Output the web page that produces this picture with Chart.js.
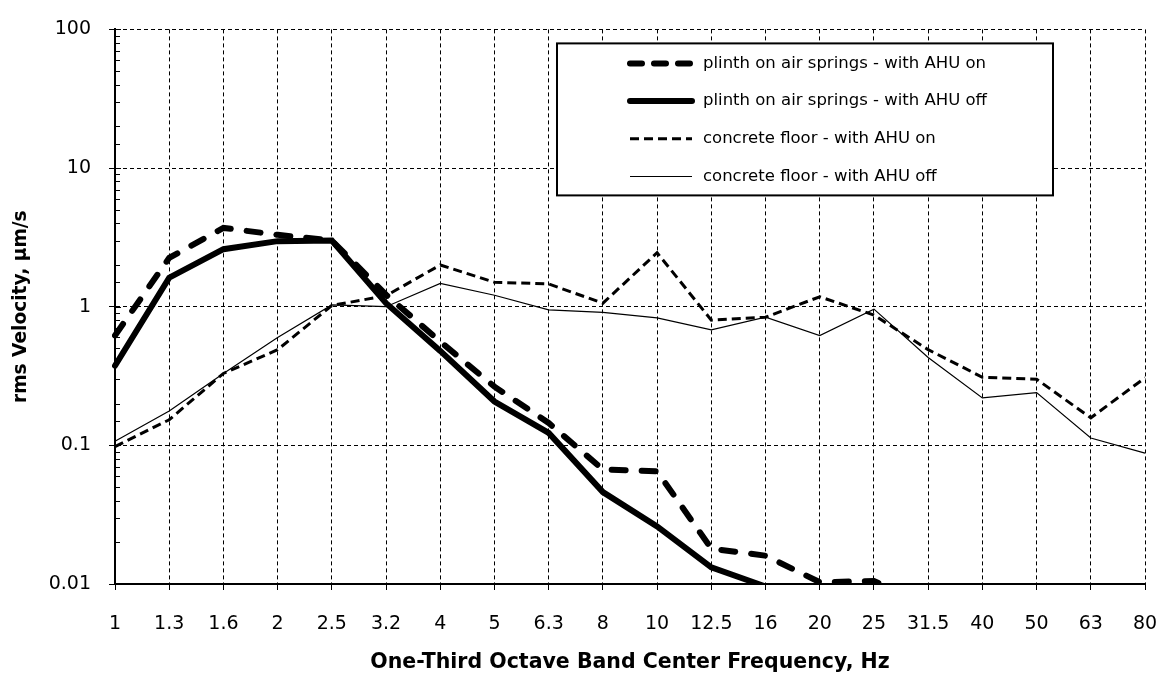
<!DOCTYPE html>
<html>
<head>
  <meta charset="UTF-8">
  <title>rms Velocity - One-Third Octave Bands</title>
  <script src="https://cdn.jsdelivr.net/npm/chart.js"></script>
  <style>
    html, body {
      margin: 0;
      padding: 0;
      background: #fff;
    }
    #wrap {
      width: 1169px;
      height: 675px;
    }
  </style>
</head>
<body>
  <div id="wrap"><canvas id="velChart"></canvas></div>

  <script>
    const freqs = ['1', '1.3', '1.6', '2', '2.5', '3.2', '4', '5', '6.3', '8', '10',
                   '12.5', '16', '20', '25', '31.5', '40', '50', '63', '80'];

    const plinthOn = [0.62, 2.25, 3.7, 3.3, 3.0, 1.22, 0.56, 0.265, 0.145, 0.067, 0.065,
                      0.018, 0.016, 0.0103, 0.0105, 0.007, null, null, null, null];
    const plinthOff = [0.375, 1.62, 2.6, 2.97, 3.0, 1.06, 0.48, 0.207, 0.123, 0.046, 0.026,
                       0.0132, 0.0096, 0.007, null, null, null, null, null, null];
    const concreteOn = [0.098, 0.153, 0.33, 0.49, 1.02, 1.2, 2.0, 1.5, 1.46, 1.06, 2.45,
                        0.80, 0.84, 1.18, 0.87, 0.49, 0.31, 0.30, 0.158, 0.307];
    const concreteOff = [0.107, 0.177, 0.33, 0.60, 1.03, 1.0, 1.47, 1.21, 0.95, 0.91, 0.83,
                         0.68, 0.84, 0.62, 0.96, 0.43, 0.22, 0.24, 0.113, 0.088];

    const yMin = 0.01, yMax = 100;
    const FONT = "'DejaVu Sans', sans-serif";

    function isDecade(v) {
      const l = Math.log10(v);
      return Math.abs(l - Math.round(l)) < 1e-9;
    }

    // legend box drawn inside the plot, over the grid
    const legendBox = {
      id: 'legendBox',
      afterDatasetsDraw(chart) {
        const { ctx, chartArea } = chart;
        const x0 = chartArea.left + 442, y0 = chartArea.top + 14, w = 496, h = 152;
        ctx.save();
        ctx.fillStyle = '#fff';
        ctx.fillRect(x0, y0, w, h);
        ctx.strokeStyle = '#000';
        ctx.lineWidth = 2;
        ctx.strokeRect(x0, y0, w, h);
        ctx.font = '16.5px ' + FONT;
        ctx.textBaseline = 'middle';
        chart.data.datasets.forEach((ds, i) => {
          const y = y0 + 20 + i * 37.7;
          ctx.beginPath();
          ctx.setLineDash(ds.legendDash || ds.borderDash || []);
          ctx.lineWidth = ds.borderWidth;
          ctx.lineCap = ds.borderCapStyle || 'butt';
          ctx.strokeStyle = ds.borderColor;
          ctx.moveTo(x0 + 73, y);
          ctx.lineTo(x0 + 135, y);
          ctx.stroke();
          ctx.setLineDash([]);
          ctx.fillStyle = '#000';
          ctx.fillText(ds.label, x0 + 146, y);
        });
        ctx.restore();
      }
    };

    // small minor ticks on the inside of the y axis
    const minorTicks = {
      id: 'minorTicks',
      afterDraw(chart) {
        const { ctx } = chart;
        const ys = chart.scales.y;
        ctx.save();
        ctx.strokeStyle = '#000';
        ctx.lineWidth = 1;
        ys.ticks.forEach(t => {
          const py = Math.round(ys.getPixelForValue(t.value)) + 0.5;
          const len = isDecade(t.value) ? 6 : 5;
          ctx.beginPath();
          ctx.moveTo(ys.right, py);
          ctx.lineTo(ys.right + len, py);
          ctx.stroke();
        });
        ctx.restore();
      }
    };

    const ctx = document.getElementById('velChart').getContext('2d');
    const velChart = new Chart(ctx, {
      type: 'line',
      data: {
        labels: freqs,
        datasets: [
          {
            label: 'plinth on air springs - with AHU on',
            data: plinthOn,
            borderColor: '#000',
            borderWidth: 6,
            borderDash: [14, 16],
            legendDash: [12, 12],
            borderCapStyle: 'round',
            pointRadius: 0,
            tension: 0
          },
          {
            label: 'plinth on air springs - with AHU off',
            data: plinthOff,
            borderColor: '#000',
            borderWidth: 6,
            borderCapStyle: 'round',
            pointRadius: 0,
            tension: 0
          },
          {
            label: 'concrete floor - with AHU on',
            data: concreteOn,
            borderColor: '#000',
            borderWidth: 3,
            borderDash: [9, 5],
            pointRadius: 0,
            tension: 0
          },
          {
            label: 'concrete floor - with AHU off',
            data: concreteOff,
            borderColor: '#000',
            borderWidth: 1.2,
            pointRadius: 0,
            tension: 0
          }
        ]
      },
      options: {
        animation: false,
        responsive: true,
        maintainAspectRatio: false,
        layout: { padding: { top: 19, right: 24, left: 0, bottom: 0 } },
        plugins: {
          legend: { display: false },
          tooltip: { enabled: false }
        },
        scales: {
          x: {
            type: 'category',
            offset: false,
            afterFit(scale) {
              scale.height = 91;
              scale.paddingLeft = 0;
              scale.paddingRight = 0;
            },
            grid: {
              color: '#000',
              lineWidth: 1,
              tickLength: 6,
              tickColor: '#000'
            },
            border: { display: true, color: '#000', width: 2, dash: [4, 3] },
            ticks: {
              autoSkip: false,
              maxRotation: 0,
              padding: 23,
              color: '#000',
              font: { family: FONT, size: 19 }
            },
            title: {
              display: true,
              text: 'One-Third Octave Band Center Frequency, Hz',
              color: '#000',
              padding: { top: 0, bottom: 0 },
              font: { family: FONT, size: 20.5, weight: 'bold' }
            }
          },
          y: {
            type: 'logarithmic',
            min: yMin,
            max: yMax,
            afterFit(scale) { scale.width = 115; },
            grid: {
              color: c => (c.tick && isDecade(c.tick.value)) ? '#000' : 'rgba(0,0,0,0)',
              lineWidth: 1,
              tickLength: 6
            },
            border: { display: true, color: '#000', width: 2, dash: [4, 3] },
            ticks: {
              autoSkip: false,
              padding: 18,
              color: '#000',
              font: { family: FONT, size: 19 },
              callback: v => isDecade(v) ? String(Number(v.toPrecision(3))) : ''
            },
            title: {
              display: true,
              text: 'rms Velocity, µm/s',
              color: '#000',
              padding: { top: 10, bottom: 0 },
              font: { family: FONT, size: 18.6, weight: 'bold' }
            }
          }
        }
      },
      plugins: [legendBox, minorTicks]
    });
  </script>
</body>
</html>
